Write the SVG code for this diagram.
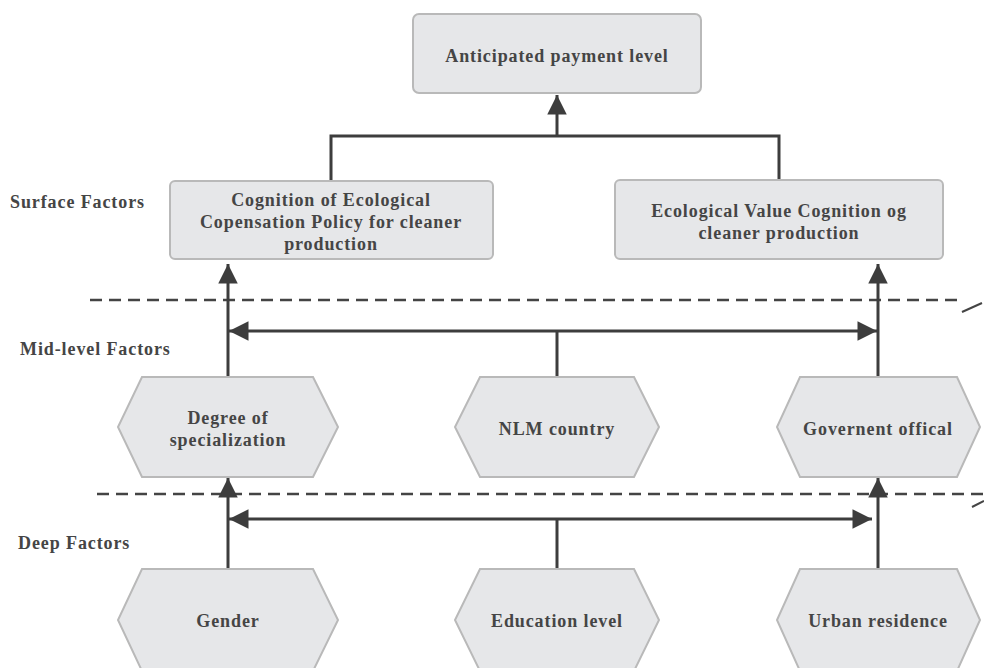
<svg xmlns="http://www.w3.org/2000/svg" width="984" height="668" viewBox="0 0 984 668">
<defs>
<style>
.box{fill:#e6e7e9;stroke:#b9b9b9;stroke-width:2}
.t{font-family:"Liberation Serif","Times New Roman",serif;font-weight:bold;font-size:18px;letter-spacing:0.9px;fill:#454545;text-anchor:middle}
.lbl{font-family:"Liberation Serif","Times New Roman",serif;font-weight:bold;font-size:18px;letter-spacing:0.9px;fill:#454545}
.ln{stroke:#3d3d3d;stroke-width:3;fill:none}
.dash{stroke:#444;stroke-width:2.5;stroke-dasharray:12 7;fill:none}
</style>
<marker id="ah" viewBox="0 0 10 10" refX="10" refY="5" markerWidth="7" markerHeight="6.5" markerUnits="strokeWidth" orient="auto">
<path d="M0,0 L10,5 L0,10 z" fill="#3d3d3d"/>
</marker>
</defs>
<rect width="984" height="668" fill="#fff"/>

<g id="labels">
<text class="lbl" x="10" y="208">Surface Factors</text>
<text class="lbl" x="20" y="355">Mid-level Factors</text>
<text class="lbl" x="18" y="549">Deep Factors</text>
</g>

<g id="separators">
<line class="dash" x1="90" y1="300" x2="960" y2="300"/>
<line x1="962" y1="312" x2="982" y2="303" stroke="#444" stroke-width="2"/>
<line class="dash" x1="97" y1="494" x2="984" y2="494"/>
<line x1="972" y1="507" x2="984" y2="501" stroke="#444" stroke-width="2"/>
</g>

<g id="connectors">
<polyline class="ln" points="331,180 331,136 779,136 779,180"/>
<line class="ln" x1="557" y1="136" x2="557" y2="95" marker-end="url(#ah)"/>
<line class="ln" x1="228" y1="377" x2="228" y2="264" marker-end="url(#ah)"/>
<line class="ln" x1="878" y1="377" x2="878" y2="264" marker-end="url(#ah)"/>
<line class="ln" x1="557" y1="331" x2="229" y2="331" marker-end="url(#ah)"/>
<line class="ln" x1="557" y1="331" x2="877" y2="331" marker-end="url(#ah)"/>
<line class="ln" x1="557" y1="331" x2="557" y2="377"/>
<line class="ln" x1="228" y1="569" x2="228" y2="478" marker-end="url(#ah)"/>
<line class="ln" x1="878" y1="569" x2="878" y2="478" marker-end="url(#ah)"/>
<line class="ln" x1="557" y1="519" x2="229" y2="519" marker-end="url(#ah)"/>
<line class="ln" x1="557" y1="519" x2="872" y2="519" marker-end="url(#ah)"/>
<line class="ln" x1="557" y1="519" x2="557" y2="569"/>
</g>

<g id="anticipated">
<rect class="box" x="413" y="14" width="288" height="79" rx="6"/>
<text class="t" x="557" y="62">Anticipated payment level</text>
</g>

<g id="policy">
<rect class="box" x="170" y="181" width="323" height="78" rx="5"/>
<text class="t" x="331" y="206">Cognition of Ecological</text>
<text class="t" x="331" y="228">Copensation Policy for cleaner</text>
<text class="t" x="331" y="250">production</text>
</g>

<g id="value">
<rect class="box" x="615" y="180" width="328" height="79" rx="5"/>
<text class="t" x="779" y="217">Ecological Value Cognition og</text>
<text class="t" x="779" y="239">cleaner production</text>
</g>

<g id="specialization">
<polygon class="box" points="142,377 313,377 338,427 313,477 142,477 118,427"/>
<text class="t" x="228" y="424">Degree of</text>
<text class="t" x="228" y="446">specialization</text>
</g>

<g id="nlm">
<polygon class="box" points="480,377 634,377 659,427 634,477 480,477 455,427"/>
<text class="t" x="557" y="435">NLM country</text>
</g>

<g id="official">
<polygon class="box" points="800,377 957,377 980,427 957,477 800,477 777,427"/>
<text class="t" x="878" y="435">Governent offical</text>
</g>

<g id="gender">
<polygon class="box" points="142,569 313,569 338,620 313,671 142,671 118,620"/>
<text class="t" x="228" y="627">Gender</text>
</g>

<g id="education">
<polygon class="box" points="480,569 634,569 659,620 634,671 480,671 455,620"/>
<text class="t" x="557" y="627">Education level</text>
</g>

<g id="urban">
<polygon class="box" points="800,569 957,569 980,620 957,671 800,671 777,620"/>
<text class="t" x="878" y="627">Urban residence</text>
</g>
</svg>
